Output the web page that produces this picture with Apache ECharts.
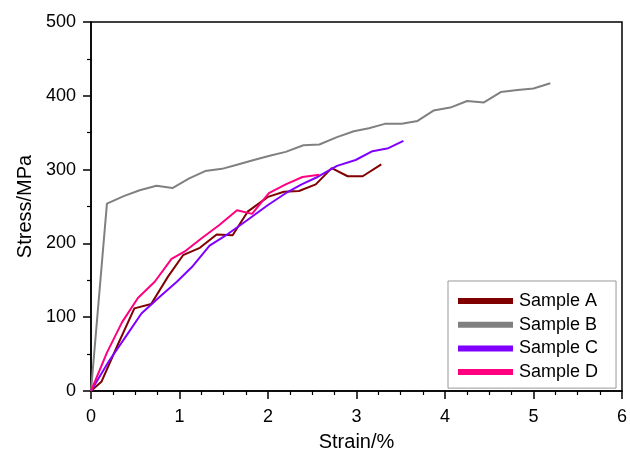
<!DOCTYPE html>
<html>
<head>
<meta charset="utf-8">
<script src="https://cdn.jsdelivr.net/npm/echarts@6/dist/echarts.min.js"></script>
<style>html,body{margin:0;padding:0;background:#fff;}#c{width:630px;height:457px;}</style>
</head>
<body>
<div id="c"></div>
<script>
var seriesNames = ['Sample A', 'Sample B', 'Sample C', 'Sample D'];
var sampleA = [[0,0],[0.12,13],[0.3,62],[0.49,112],[0.68,118],[0.87,155],[1.04,184],[1.23,194],[1.42,212],[1.60,211],[1.77,243],[2.0,263],[2.18,270],[2.35,271],[2.54,280],[2.72,302],[2.90,291],[3.07,291],[3.28,307]];
var sampleB = [[0,0],[0.18,254],[0.37,264],[0.55,272],[0.74,278],[0.92,275],[1.11,288],[1.29,298],[1.48,301],[1.66,307],[1.84,313],[2.03,319],[2.2,324],[2.40,333],[2.58,334],[2.78,344],[2.97,352],[3.14,356],[3.32,362],[3.51,362],[3.69,366],[3.87,380],[4.06,384],[4.25,393],[4.44,391],[4.63,405],[4.82,408],[5.0,410],[5.19,417]];
var sampleC = [[0,0],[0.2,40],[0.4,75],[0.57,105],[0.78,128],[0.97,148],[1.14,168],[1.34,197],[1.55,213],[1.76,231],[2.0,252],[2.2,268],[2.38,280],[2.56,290],[2.78,305],[2.99,313],[3.18,325],[3.36,329],[3.53,339]];
var sampleD = [[0,0],[0.18,52],[0.35,93],[0.53,126],[0.72,148],[0.91,179],[1.07,190],[1.25,207],[1.45,225],[1.65,245],[1.82,240],[2.01,268],[2.2,280],[2.39,290],[2.58,293]];
var xTicks = [0, 1, 2, 3, 4, 5, 6];
var yTicks = [0, 100, 200, 300, 400, 500];
var colors = ['#800000', '#808080', '#8000ff', '#ff0080'];

var FONT = "'Liberation Sans', Arial, sans-serif";
var chart = echarts.init(document.getElementById('c'), null, {renderer: 'canvas'});
var datasets = [sampleA, sampleB, sampleC, sampleD];
chart.setOption({
  animation: false,
  backgroundColor: '#fff',
  color: colors,
  grid: {left: 91, right: 6, top: 22, bottom: 61, show: true, borderColor: '#000', borderWidth: 1.5, backgroundColor: 'transparent'},
  legend: {
    orient: 'vertical', left: 448, top: 281,
    padding: [11, 18, 7, 10], itemGap: 5.7,
    itemWidth: 55, itemHeight: 6, icon: 'rect',
    borderColor: '#999', borderWidth: 1, backgroundColor: '#fff',
    textStyle: {fontFamily: FONT, fontSize: 18, color: '#000', lineHeight: 18, padding: [0,0,0,1]},
    data: seriesNames
  },
  xAxis: {
    type: 'value', min: xTicks[0], max: xTicks[xTicks.length-1], interval: 1,
    name: 'Strain/%', nameLocation: 'middle', nameGap: 41,
    nameTextStyle: {fontFamily: FONT, fontSize: 20, color: '#000'},
    axisLine: {show: true, onZero: false, lineStyle: {color: '#000', width: 1.5}},
    axisTick: {show: true, length: 8, lineStyle: {color: '#000', width: 1.5}},
    minorTick: {show: true, splitNumber: 4, length: 4, lineStyle: {color: '#000', width: 1.2}},
    axisLabel: {fontFamily: FONT, fontSize: 18, color: '#000', margin: 17},
    splitLine: {show: false}
  },
  yAxis: {
    type: 'value', min: yTicks[0], max: yTicks[yTicks.length-1], interval: 100,
    name: 'Stress/MPa', nameLocation: 'middle', nameGap: 55,
    nameTextStyle: {fontFamily: FONT, fontSize: 20, color: '#000'},
    axisLine: {show: true, onZero: false, lineStyle: {color: '#000', width: 1.5}},
    axisTick: {show: true, length: 8, lineStyle: {color: '#000', width: 1.5}},
    minorTick: {show: true, splitNumber: 2, length: 4, lineStyle: {color: '#000', width: 1.2}},
    axisLabel: {fontFamily: FONT, fontSize: 18, color: '#000', margin: 15},
    splitLine: {show: false}
  },
  series: seriesNames.map(function (n, i) {
    return {
      name: n, type: 'line', data: datasets[i], symbol: 'none', smooth: false,
      lineStyle: {width: 2, color: colors[i]}, itemStyle: {color: colors[i]}, z: 3
    };
  })
});
</script>
</body>
</html>
